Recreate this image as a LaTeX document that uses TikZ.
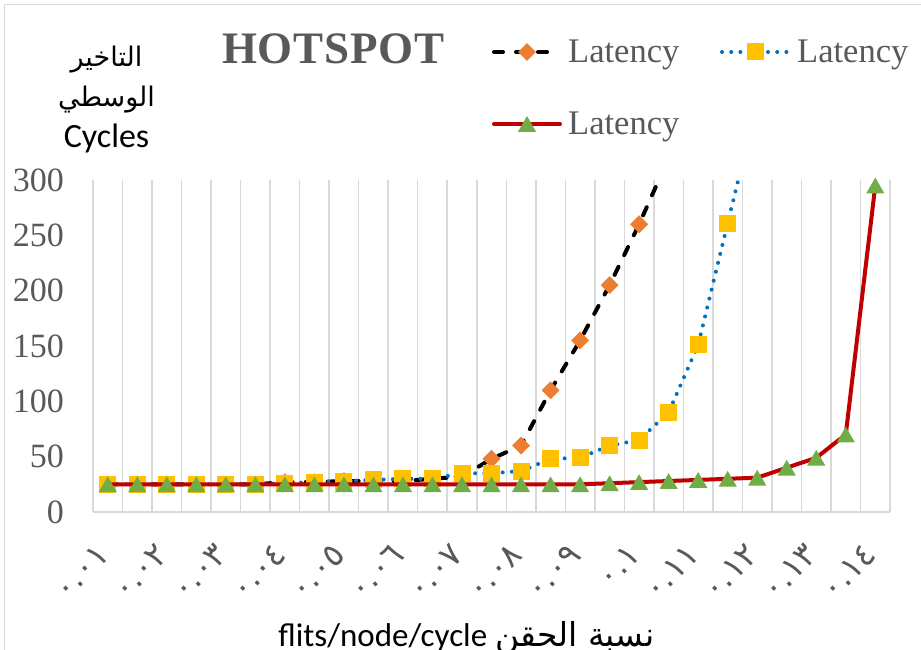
\documentclass[tikz,border=0pt]{standalone}
\usepackage{fontspec}
\setmainfont{Liberation Serif}
\newfontfamily\arabicfont[Script=Arabic]{DejaVu Sans}
\newfontfamily\calib{Carlito}
\TeXXeTstate=1
\usetikzlibrary{shapes.geometric}
\definecolor{txtgray}{HTML}{595959}
\definecolor{gridgray}{HTML}{D9D9D9}
\definecolor{mkorange}{HTML}{ED7D31}
\definecolor{mkyellow}{HTML}{FFC000}
\definecolor{lnblue}{HTML}{0070C0}
\definecolor{lnred}{HTML}{C00000}
\definecolor{mkgreen}{HTML}{70AD47}
\begin{document}
\begin{tikzpicture}[x=1pt,y=1pt,
 gridln/.style={draw=gridgray, line width=1.5pt},
 s1line/.style={black, line width=4pt, line cap=round, line join=round, dash pattern=on 9pt off 13pt},
 s2line/.style={lnblue, line width=4pt, line cap=round, dash pattern=on 0pt off 9.2pt},
 s3line/.style={lnred, line width=4pt, line join=round, line cap=round},
 diam/.style={diamond, aspect=1, fill=mkorange, minimum size=18pt, inner sep=0pt},
 sqr/.style={rectangle, fill=mkyellow, minimum size=17pt, inner sep=0pt},
 tri/.style={regular polygon, regular polygon sides=3, fill=mkgreen, minimum size=21pt, inner sep=0pt, yshift=-2.6pt},
 ylab/.style={text=txtgray, font=\fontsize{34}{34}\selectfont, inner sep=0pt, anchor=east},
 xlab/.style={text=txtgray, font=\arabicfont\fontsize{33}{33}\selectfont, inner sep=0pt, anchor=east, rotate=45},
 legtxt/.style={text=txtgray, font=\fontsize{34.5}{34.5}\selectfont, inner sep=0pt, anchor=base west},
]
\useasboundingbox (0,0) rectangle (921,649);
\fill[white] (0,0) rectangle (921,649);
\draw[gridgray, line width=1.5pt] (4.5,-10) -- (4.5,644.5) -- (935,644.5);

% plot area
\begin{scope}[shift={(78.24pt,137pt)}, x=29.52pt, y=1.10667pt]
  \foreach \k in {0,...,27} \draw[gridln] ({\k+0.5},0) -- ({\k+0.5},300);
  \draw[gridln] (0.5,0) -- (27.5,0);
  % series 1
  \begin{scope}
    \clip (0.5,0) rectangle (27.5,300);
    \draw[s1line] plot coordinates {(1,25)(2,25)(3,25)(4,25)(5,25)(6,25)(7,27)(8,27)(9,28)(10,28)(11,28)(12,30)(13,32)(14,48)(15,60)(16,110)(17,155)(18,205)(19,260)(20,320)};
  \end{scope}
  \foreach \i/\v [count=\n] in {1/25,2/25,3/25,4/25,5/25,6/25,7/27,8/27,9/28,10/28,11/28,12/30,13/32,14/48,15/60,16/110,17/155,18/205,19/260}
    \node[diam] (a\n) at (\i,\v) {};
  % series 2
  \begin{scope}
    \clip (0.5,0) rectangle (27.5,300);
    \draw[s2line] plot coordinates {(1,25)(2,25)(3,25)(4,25)(5,25)(6,25)(7,26)(8,27)(9,28)(10,29)(11,30)(12,30)(13,35)(14,35)(15,37)(16,48)(17,49)(18,60)(19,65)(20,90)(21,151)(22,261)(23,370)};
  \end{scope}
  \foreach \i/\v [count=\n] in {1/25,2/25,3/25,4/25,5/25,6/25,7/26,8/27,9/28,10/29,11/30,12/30,13/35,14/35,15/37,16/48,17/49,18/60,19/65,20/90,21/151,22/261}
    \node[sqr] (b\n) at (\i,\v) {};
  % series 3
  \draw[s3line] plot coordinates {(1,25)(2,25)(3,25)(4,25)(5,25)(6,25)(7,25)(8,25)(9,25)(10,25)(11,25)(12,25)(13,25)(14,25)(15,25)(16,25)(17,25)(18,26)(19,27)(20,28)(21,29)(22,30)(23,31)(24,40)(25,49)(26,70)(27,295)};
  \foreach \i/\v [count=\n] in {1/25,2/25,3/25,4/25,5/25,6/25,7/25,8/25,9/25,10/25,11/25,12/25,13/25,14/25,15/25,16/25,17/25,18/26,19/27,20/28,21/29,22/30,23/31,24/40,25/49,26/70,27/295}
    \node[tri] (c\n) at (\i,\v) {};
\end{scope}

% y tick labels
\foreach \v in {0,50,...,300}
  \node[ylab] (yt\v) at (64,{137+1.10667*\v}) {\v};

% x tick labels
\foreach \i/\t [count=\n] in {1/٠.٠١,3/٠.٠٢,5/٠.٠٣,7/٠.٠٤,9/٠.٠٥,11/٠.٠٦,13/٠.٠٧,15/٠.٠٨,17/٠.٠٩,19/٠.١,21/٠.١١,23/٠.١٢,25/٠.١٣,27/٠.١٤}
  \node[xlab] (xt\n) at ({78.24+29.52*\i-4},100) {\t};

% axis titles
\node[anchor=base, inner sep=0pt, font=\arabicfont\fontsize{27}{27}\selectfont] (yl1) at (106.5,582) {\beginR التاخير\endR};
\node[anchor=base, inner sep=0pt, font=\arabicfont\fontsize{27}{27}\selectfont] (yl2) at (106.5,542) {\beginR الوسطي\endR};
\node[anchor=base, inner sep=0pt, font=\calib\fontsize{34}{34}\selectfont] (yl3) at (106.5,501) {Cycles};
\node[anchor=base, inner sep=0pt, font=\fontsize{33}{33}\selectfont] (xtitle) at (466.5,3) {{\calib flits/node/cycle} {\arabicfont\beginR نسبة الحقن\endR}};

% title
\node[anchor=base west, inner sep=0pt, text=txtgray, font=\bfseries\fontsize{45}{45}\selectfont] (title) at (222,585) {H\kern0.8pt O\kern0.8pt T\kern0.8pt S\kern0.8pt P\kern0.8pt O\kern0.8pt T};

% legend
\draw[s1line] (494,597) -- (560,597);
\node[diam] (lg1) at (527,597) {};
\node[legtxt] (lt1) at (568,586) {Latency};
\draw[s2line] (722,597) -- (790,597);
\node[sqr] (lg2) at (755,597) {};
\node[legtxt] (lt2) at (797,586) {Latency};
\draw[s3line] (494,525) -- (560,525);
\node[tri] (lg3) at (527,525) {};
\node[legtxt] (lt3) at (568,514) {Latency};
\end{tikzpicture}
\end{document}
